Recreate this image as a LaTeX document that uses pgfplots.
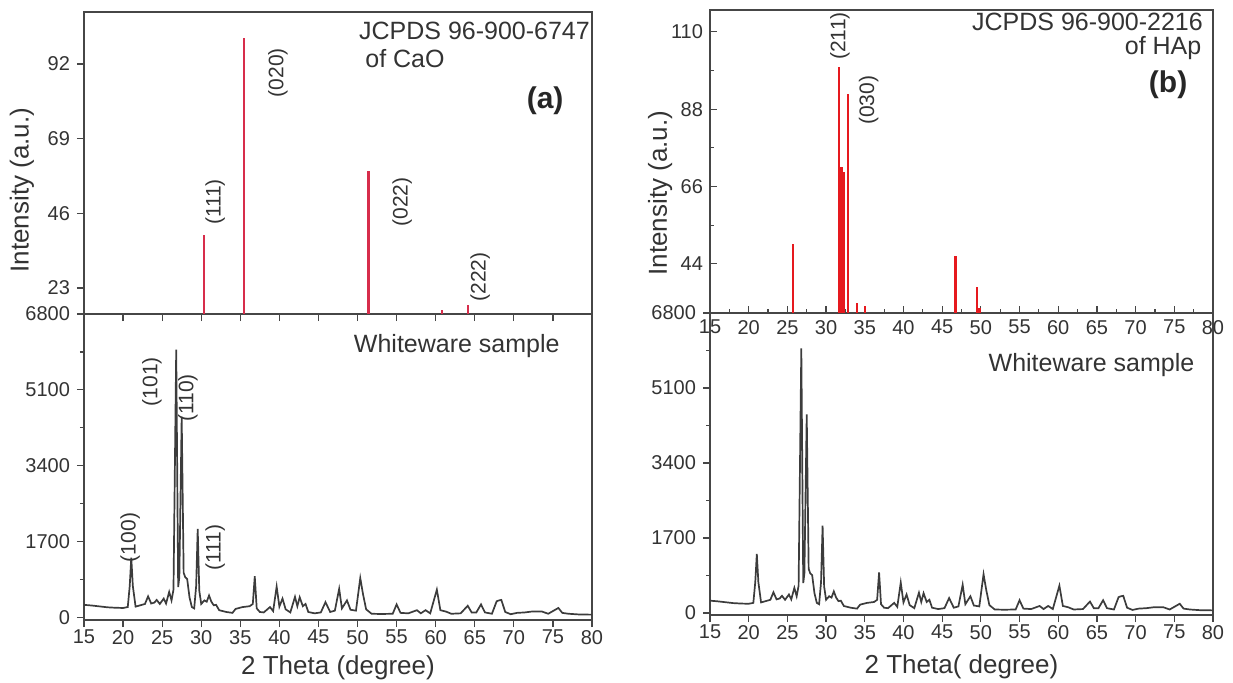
\documentclass[border=0pt]{standalone}
\usepackage{pgfplots}
\pgfplotsset{compat=1.18}
\usepackage{pgfplotstable}
\usepackage{fontspec}
\setmainfont{Liberation Sans}

\definecolor{framegray}{RGB}{70,70,70}
\definecolor{curvegray}{RGB}{60,60,60}
\definecolor{stickA}{RGB}{215,45,75}
\definecolor{stickB}{RGB}{230,25,30}

% whiteware sample pattern (2theta, counts)
\pgfplotstableread{
tt I
15.0 280
16.0 265
17.0 245
18.0 225
19.0 215
20.0 210
20.6 230
20.85 700
21.05 1340
21.25 700
21.6 240
22.2 270
22.8 300
23.2 470
23.6 310
24.0 330
24.3 390
24.7 300
25.2 420
25.5 310
25.9 570
26.2 380
26.45 620
26.8 6000
27.05 680
27.2 900
27.5 4500
27.75 1000
27.95 900
28.2 860
28.5 450
28.8 230
29.1 200
29.35 700
29.55 1980
29.75 600
30.0 300
30.4 380
30.7 350
31.0 490
31.3 350
31.6 270
31.9 280
32.3 160
33.2 120
34.0 100
34.4 190
35.3 230
36.2 250
36.6 300
36.85 920
37.1 200
37.5 120
38.0 110
38.8 230
39.2 140
39.65 690
40.0 240
40.4 420
40.8 180
41.4 110
42.0 460
42.3 250
42.6 450
43.0 250
43.35 300
43.7 120
44.5 90
45.3 110
45.9 340
46.5 120
47.1 150
47.65 640
48.0 200
48.65 380
49.1 170
49.8 150
50.35 880
50.7 520
51.1 180
51.8 80
53.0 75
54.5 80
55.0 290
55.5 100
56.5 90
57.6 160
58.1 90
58.7 160
59.3 90
60.15 620
60.6 160
61.3 130
62.0 80
63.2 90
64.1 260
64.6 110
65.2 110
65.8 290
66.3 110
67.2 80
67.8 360
68.1 380
68.4 390
68.9 120
69.6 70
70.4 100
71.4 110
72.3 130
73.6 130
74.4 80
75.7 210
76.2 100
77.0 80
78.3 65
80.0 60
}\whiteware

% CaO reference lines
\pgfplotstableread{
tt I
30.4 39.3
35.5 100
51.4 59.1
60.8 16.3
64.1 17.9
}\cao

% HAp reference lines
\pgfplotstableread{
tt I
25.7 49.5
31.7 100
32.0 71.5
32.25 70
32.8 92.4
34.0 32.8
35.0 32.1
46.7 46.1
49.5 37.3
49.8 31.5
}\hap

\pgfplotsset{
  xrd/.style={
    scale only axis,
    anchor=south west,
    clip mode=individual,
    xmin=15, xmax=80,
    xtick={15,20,...,80},
    axis line style={framegray, line width=0.8pt},
    tick style={framegray, line width=0.6pt},
    major tick length=3.5pt,
    minor tick length=2pt,
    tick label style={font=\fontsize{10}{12}\selectfont, text=black!80},
    /pgf/number format/assume math mode=true,
    /pgf/number format/1000 sep={},
    scaled y ticks=false,
    xtick pos=left, ytick pos=left,
  },
}
\tikzset{
  lbl/.style={font=\fontsize{10.5}{12}\selectfont, text=black!80, rotate=90},
  note/.style={font=\fontsize{12.5}{14}\selectfont, text=black!80},
  axlbl/.style={font=\fontsize{13}{15}\selectfont, text=black!80},
}

\begin{document}
\begin{tikzpicture}
\useasboundingbox (0,0) rectangle (616.5pt,-341pt);

% (a) lower: whiteware sample
\begin{axis}[xrd, at={(42pt,-310pt)}, width=254pt, height=153pt,
  ymin=-60, ymax=6800, ytick={0,1700,3400,5100,6800}, minor y tick num=1,
  tick align=outside, xticklabel shift=-2pt]
  \addplot[curvegray, line width=0.85pt] table[x=tt, y=I] {\whiteware};
  \node[note] at (axis cs:62.7,6085) {Whiteware sample};
  \node[lbl] at (axis cs:20.9,1790) {(100)};
  \node[lbl] at (axis cs:23.7,5280) {(101)};
  \node[lbl] at (axis cs:28.3,4920) {(110)};
  \node[lbl] at (axis cs:31.8,1566) {(111)};
  \node[axlbl] at (rel axis cs:0.5,-0.157) {2 Theta (degree)};
\end{axis}

% (a) upper: CaO reference
\begin{axis}[xrd, at={(42pt,-157pt)}, width=254pt, height=151pt,
  ymin=15, ymax=108, ytick={23,46,69,92}, xticklabel=\empty,
  tick align=outside]
  \addplot[ycomb, stickA, line width=1.1pt] table[x=tt, y=I] {\cao};
  \node[lbl] at (axis cs:31.8,49.5) {(111)};
  \node[lbl] at (axis cs:39.8,89.3) {(020)};
  \node[lbl] at (axis cs:55.7,49.5) {(022)};
  \node[lbl] at (axis cs:65.7,26.4) {(222)};
  \node[note, anchor=west] at (axis cs:49.3,102.2) {JCPDS 96-900-6747};
  \node[note, anchor=west] at (axis cs:50.1,93.6) {of CaO};
  \node[font=\fontsize{15}{17}\selectfont\bfseries, text=black!85] at (axis cs:74.0,80.7) {(a)};
  \node[axlbl, rotate=90] at (rel axis cs:-0.122,0.41) {Intensity (a.u.)};
\end{axis}

% (b) lower: whiteware sample
\begin{axis}[xrd, at={(355pt,-307.5pt)}, width=251.5pt, height=151pt,
  ymin=-45, ymax=6800, ytick={0,1700,3400,5100,6800}, minor y tick num=1,
  tick align=outside, xticklabel shift=-2pt]
  \addplot[curvegray, line width=0.85pt] table[x=tt, y=I] {\whiteware};
  \node[note] at (axis cs:64.3,5620) {Whiteware sample};
  \node[axlbl] at (rel axis cs:0.5,-0.17) {2 Theta( degree)};
\end{axis}

% (b) upper: HAp reference
\begin{axis}[xrd, at={(355pt,-156.5pt)}, width=251.5pt, height=151.5pt,
  ymin=30, ymax=116.2, ytick={44,66,88,110}, minor y tick num=1,
  minor x tick num=1]
  \addplot[ycomb, stickB, line width=1.2pt] table[x=tt, y=I] {\hap};
  \node[lbl] at (axis cs:31.8,108.8) {(211)};
  \node[lbl] at (axis cs:35.5,90.5) {(030)};
  \node[note, anchor=east] at (axis cs:79.6,112.8) {JCPDS 96-900-2216};
  \node[note, anchor=east] at (axis cs:79.4,105.4) {of HAp};
  \node[font=\fontsize{15}{17}\selectfont\bfseries, text=black!85] at (axis cs:74.2,94.8) {(b)};
  \node[axlbl, rotate=90] at (rel axis cs:-0.099,0.396) {Intensity (a.u.)};
\end{axis}
\end{tikzpicture}
\end{document}
